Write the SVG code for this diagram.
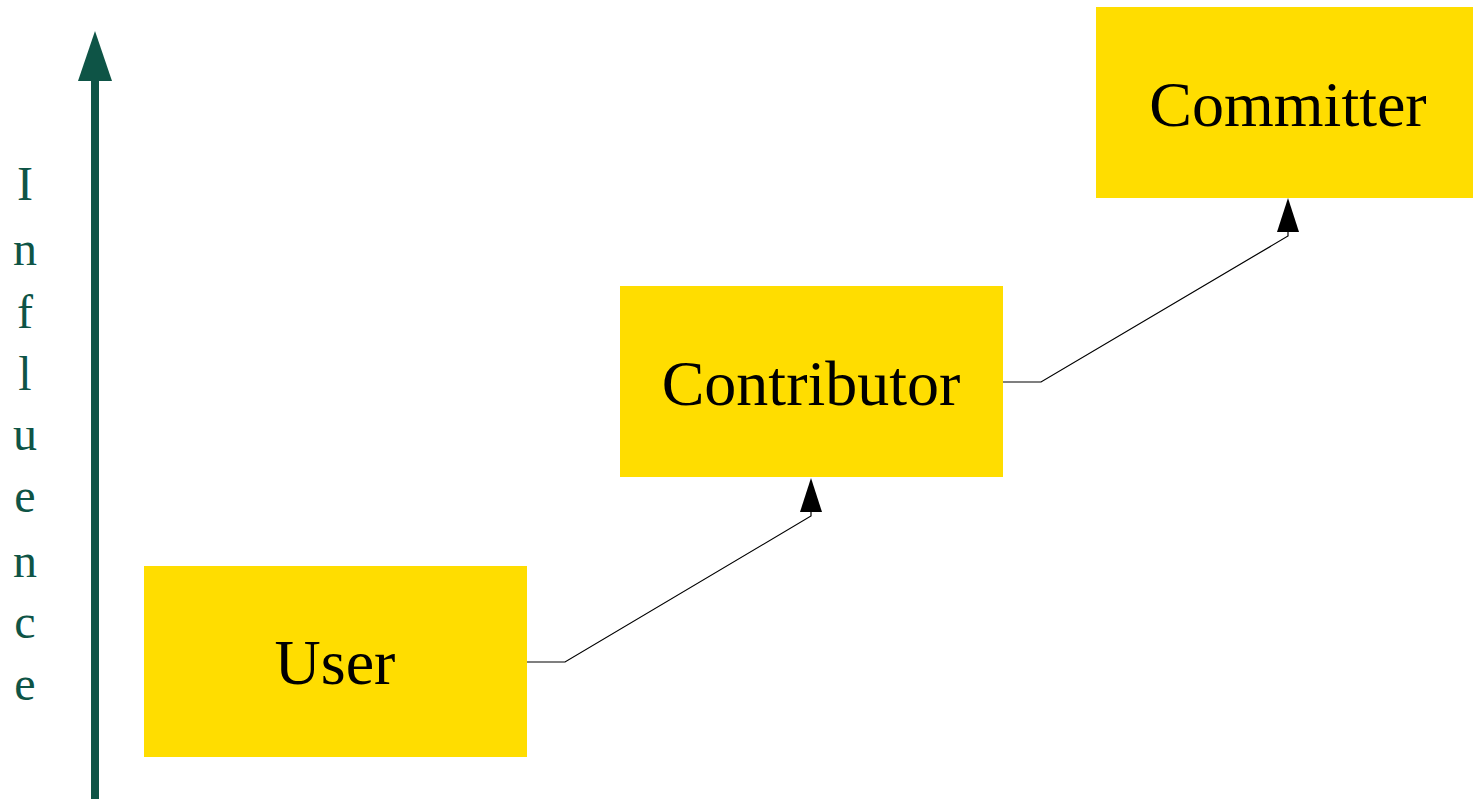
<svg xmlns="http://www.w3.org/2000/svg" width="1473" height="799" viewBox="0 0 1473 799">
<style>
.box{fill:#FFDD00}
.lbl{font-family:"Liberation Serif",serif;font-size:64px;fill:#000;text-anchor:middle}
.inf{font-family:"Liberation Serif",serif;font-size:48px;fill:#0E5446;text-anchor:middle}
.conn{fill:none;stroke:#000;stroke-width:1.2}
.head{fill:#000}
</style>
<defs>
<polygon id="ah" class="head" points="0,0 11,34 -11,34"/>
</defs>
<rect width="1473" height="799" fill="#fff"/>
<g id="axis">
<rect x="91" y="78" width="8" height="721" fill="#0E5446"/>
<polygon points="95,31 112,81 78,81" fill="#0E5446"/>
<text class="inf" x="25" y="200">I</text>
<text class="inf" x="25" y="265">n</text>
<text class="inf" x="25" y="328">f</text>
<text class="inf" x="25" y="390">l</text>
<text class="inf" x="25" y="450">u</text>
<text class="inf" x="25" y="512">e</text>
<text class="inf" x="25" y="577">n</text>
<text class="inf" x="25" y="638">c</text>
<text class="inf" x="25" y="700">e</text>
</g>
<g id="user">
<rect class="box" x="144" y="566" width="383" height="191"/>
<text class="lbl" x="335" y="684">User</text>
</g>
<g id="contributor">
<rect class="box" x="620" y="286" width="383" height="191"/>
<text class="lbl" x="811" y="405">Contributor</text>
</g>
<g id="committer">
<rect class="box" x="1096" y="7" width="377" height="191"/>
<text class="lbl" x="1288" y="126">Committer</text>
</g>
<g id="connectors">
<polyline class="conn" points="527,662 565,662 811,516 811,512"/>
<use href="#ah" x="811" y="478"/>
<polyline class="conn" points="1003,382 1041,382 1288,236 1288,232"/>
<use href="#ah" x="1288" y="198"/>
</g>
</svg>
